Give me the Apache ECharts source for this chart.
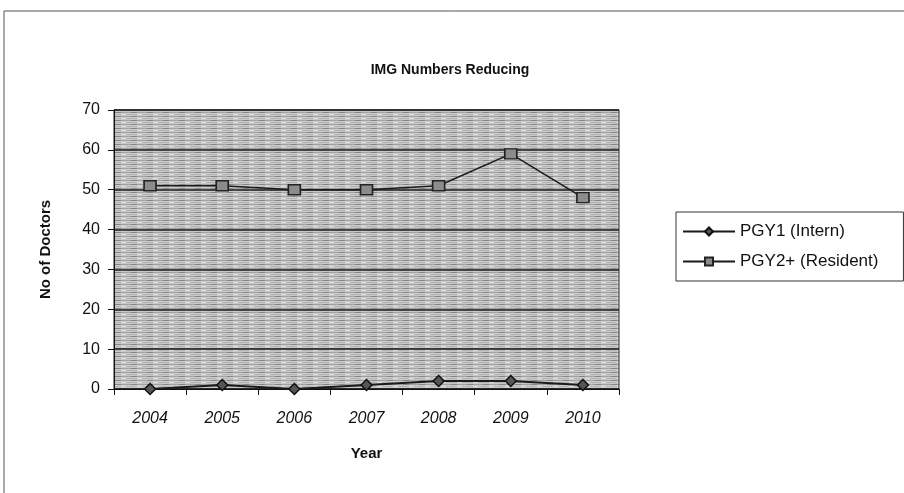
<!DOCTYPE html>
<html>
<head>
<meta charset="utf-8">
<title>IMG Numbers Reducing</title>
<script src="https://cdn.jsdelivr.net/npm/echarts@6/dist/echarts.min.js"></script>
<style>
  html, body { margin: 0; padding: 0; background: #fff; }
  #chart { width: 904px; height: 493px; }
</style>
</head>
<body>
<div id="chart"></div>
<script>
// data
const years = ['2004', '2005', '2006', '2007', '2008', '2009', '2010']
const pgy1Intern = [0, 1, 0, 1, 2, 2, 1]
const pgy2Resident = [51, 51, 50, 50, 51, 59, 48]
const yTicks = { min: 0, max: 70, interval: 10 }

// streaky grey fill, like the scanned plot area
function makeStreaks () {
  const c = document.createElement('canvas')
  c.width = 16
  c.height = 4
  const ctx = c.getContext('2d')
  const rows = ['#a2a2a2', '#cccccc', '#b4b4b4', '#c8c8c8']
  rows.forEach(function (col, i) {
    ctx.fillStyle = col
    ctx.fillRect(0, i, 16, 1)
  })
  ctx.fillStyle = '#858585'
  ctx.fillRect(3, 0, 6, 1)
  ctx.fillStyle = '#dcdcdc'
  ctx.fillRect(9, 2, 5, 1)
  return c
}

const font = 'Liberation Sans'
const chart = echarts.init(document.getElementById('chart'), null, { renderer: 'canvas' })

const option = {
  animation: false,
  backgroundColor: '#fff',
  textStyle: { fontFamily: font, color: '#111' },
  title: {
    text: 'IMG Numbers Reducing',
    left: 445,
    top: 58,
    textAlign: 'center',
    textStyle: { fontFamily: font, fontSize: 14, fontWeight: 'bold', color: '#111' }
  },
  graphic: [{
    type: 'rect',
    z: -1,
    shape: { x: 4, y: 11, width: 940, height: 520 },
    style: { fill: 'none', stroke: '#555', lineWidth: 1 }
  }],
  grid: {
    left: 114,
    right: 285,
    top: 110,
    bottom: 104,
    show: true,
    backgroundColor: { image: makeStreaks(), repeat: 'repeat' },
    borderColor: '#222',
    borderWidth: 1
  },
  legend: {
    orient: 'vertical',
    left: 676,
    top: 212,
    padding: [11, 25, 11, 6],
    itemGap: 13,
    itemWidth: 52,
    itemHeight: 10,
    borderColor: '#333',
    borderWidth: 1,
    backgroundColor: '#fff',
    textStyle: { fontFamily: font, fontSize: 17, color: '#111' },
    data: ['PGY1 (Intern)', 'PGY2+ (Resident)']
  },
  xAxis: {
    type: 'category',
    data: years,
    boundaryGap: true,
    name: 'Year',
    nameLocation: 'middle',
    nameGap: 57,
    nameTextStyle: { fontFamily: font, fontSize: 15, fontWeight: 'bold', color: '#111' },
    axisLine: { lineStyle: { color: '#111', width: 1 } },
    axisTick: { show: true, length: 6, lineStyle: { color: '#111' } },
    axisLabel: { fontFamily: font, fontSize: 16, fontStyle: 'italic', color: '#111', margin: 22 },
    splitLine: { show: false }
  },
  yAxis: {
    type: 'value',
    min: yTicks.min,
    max: yTicks.max,
    interval: yTicks.interval,
    name: 'No of Doctors',
    nameLocation: 'middle',
    nameGap: 61,
    nameRotate: 90,
    nameTextStyle: { fontFamily: font, fontSize: 15, fontWeight: 'bold', color: '#111' },
    axisLine: { show: true, lineStyle: { color: '#111', width: 1 } },
    axisTick: { show: true, length: 6, lineStyle: { color: '#111' } },
    axisLabel: { fontFamily: font, fontSize: 16, color: '#111', margin: 14 },
    splitLine: { show: true, lineStyle: { color: '#1a1a1a', width: 1.5 } }
  },
  series: [
    {
      name: 'PGY1 (Intern)',
      type: 'line',
      data: pgy1Intern,
      symbol: 'diamond',
      symbolSize: 11,
      lineStyle: { color: '#1a1a1a', width: 2 },
      itemStyle: { color: '#555', borderColor: '#111', borderWidth: 1.5 }
    },
    {
      name: 'PGY2+ (Resident)',
      type: 'line',
      data: pgy2Resident,
      symbol: 'rect',
      symbolSize: [12, 10],
      lineStyle: { color: '#1a1a1a', width: 1.5 },
      itemStyle: { color: '#8c8c8c', borderColor: '#222', borderWidth: 1.5 }
    }
  ]
}

chart.setOption(option)
</script>
</body>
</html>
